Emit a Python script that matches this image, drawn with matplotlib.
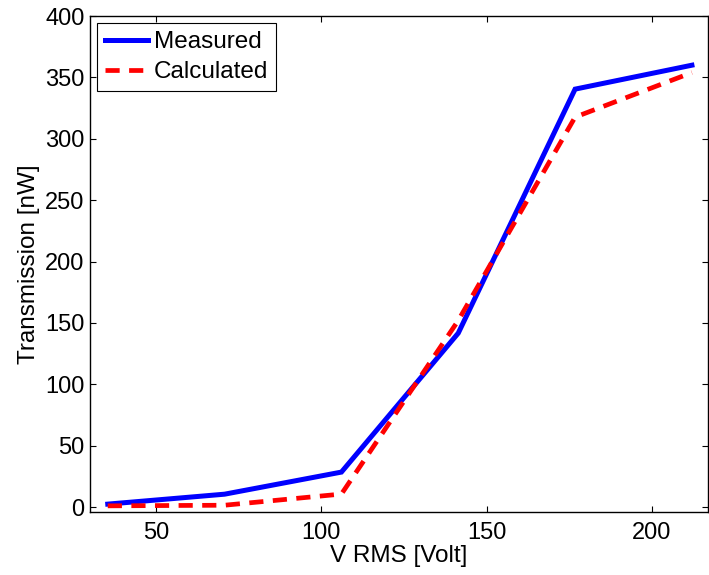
import matplotlib
matplotlib.use("Agg")
import matplotlib.pyplot as plt

v_rms = [35.36, 70.71, 106.07, 141.42, 176.78, 212.13]
measured = [2.4, 10.5, 28.5, 141.7, 340.5, 360.0]
calculated = [1.0, 1.5, 10.6, 152.0, 317.7, 354.0]
xticks = [50, 100, 150, 200]
yticks = [0, 50, 100, 150, 200, 250, 300, 350, 400]

plt.rcParams['font.family'] = ['Liberation Sans', 'DejaVu Sans']

fig = plt.figure(figsize=(7.09, 5.75), dpi=100)
ax = fig.add_axes([0.127, 0.1096, 0.8716, 0.8624])

ax.plot(v_rms, measured, color='#0000ff', lw=3.6, label='Measured', solid_joinstyle='miter')
ax.plot(v_rms, calculated, color='#ff0000', lw=3.4, ls=(0, (3.0, 2.0)), label='Calculated')

ax.set_xlim(30, 217)
ax.set_ylim(-4, 400)
ax.set_xticks(xticks)
ax.set_yticks(yticks)
ax.tick_params(direction='in', length=4, width=0.8, top=True, right=True, labelsize=17, pad=4)
ax.tick_params(axis='x', pad=7)
for s in ax.spines.values():
    s.set_linewidth(1.0)

ax.set_xlabel('V RMS [Volt]', fontsize=17.5, labelpad=1)
ax.set_ylabel('Transmission [nW]', fontsize=17.5, labelpad=4)

leg = ax.legend(loc='upper left', fontsize=17.5, frameon=True, fancybox=False,
                edgecolor='black', framealpha=1, handlelength=1.75, handletextpad=0.25,
                borderaxespad=0.3, borderpad=0.33, labelspacing=0.33)
leg.get_frame().set_linewidth(0.8)

fig.savefig('out.png', dpi=100)
